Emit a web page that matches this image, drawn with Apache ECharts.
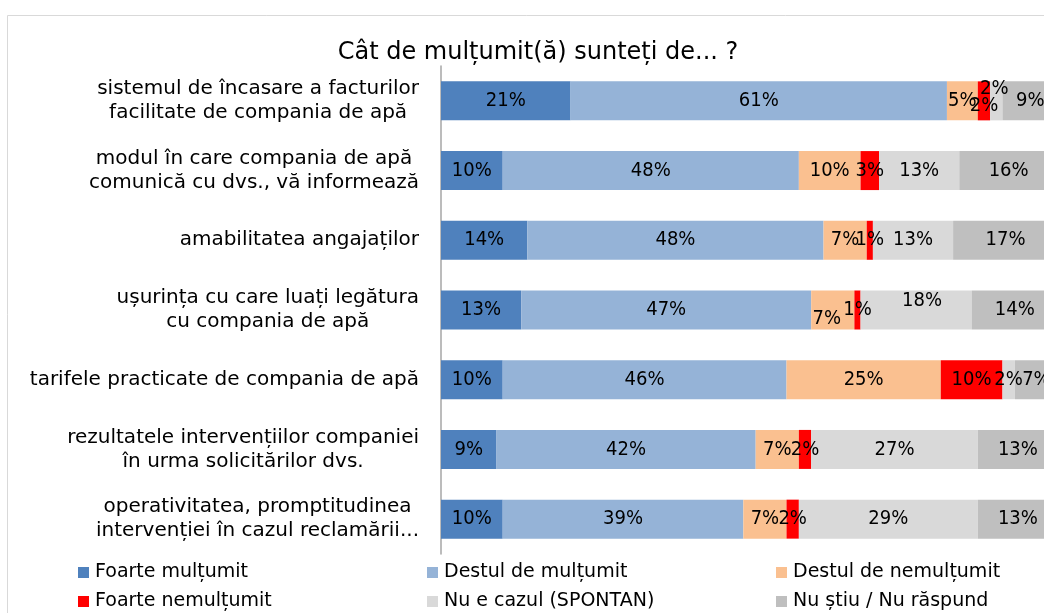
<!DOCTYPE html>
<html>
<head>
<meta charset="utf-8">
<script src="https://cdn.jsdelivr.net/npm/echarts@6/dist/echarts.min.js"></script>
<style>
  html, body { margin: 0; padding: 0; background: #fff; }
  #chart { width: 1044px; height: 613px; }
</style>
</head>
<body>
<div id="chart"></div>
<script>
// categorii (de sus in jos)
var categories = [
  'sistemul de încasare a facturilor\nfacilitate de compania de apă',
  'modul în care compania de apă\ncomunică cu dvs., vă informează',
  'amabilitatea angajaților',
  'ușurința cu care luați legătura\ncu compania de apă',
  'tarifele practicate de compania de apă',
  'rezultatele intervențiilor companiei\nîn urma solicitărilor dvs.',
  'operativitatea, promptitudinea\nintervenției în cazul reclamării...'
];

var seriesNames = [
  'Foarte mulțumit',
  'Destul de mulțumit',
  'Destul de nemulțumit',
  'Foarte nemulțumit',
  'Nu e cazul (SPONTAN)',
  'Nu știu / Nu răspund'
];

var foarteMultumit    = [21, 10, 14, 13, 10, 9, 10];
var destulMultumit    = [61, 48, 48, 47, 46, 42, 39];
var destulNemultumit  = [5, 10, 7, 7, 25, 7, 7];
var foarteNemultumit  = [2, 3, 1, 1, 10, 2, 2];
var nuECazul          = [2, 13, 13, 18, 2, 27, 29];
var nuStiu            = [9, 16, 17, 14, 7, 13, 13];

var allValues = [foarteMultumit, destulMultumit, destulNemultumit, foarteNemultumit, nuECazul, nuStiu];
var colors = ['#4F81BD', '#95B3D7', '#FAC090', '#FF0000', '#D9D9D9', '#BFBFBF'];

// etichete mutate ca in original (serie-rand -> offset)
var labelNudge = {
  '3-0': [0, 5],
  '4-0': [-2, -12],
  '2-3': [-6, 9],
  '4-3': [6, -9]
};

// pozitia legendei: [coloana x, rand y] pentru fiecare serie
var legendSpots = [[78, 563], [427, 563], [776, 563], [78, 592], [427, 592], [776, 592]];

var labelFont = 'DejaVu Sans Condensed';
var textFont = 'DejaVu Sans';

var myChart = echarts.init(document.getElementById('chart'));

var series = seriesNames.map(function (name, si) {
  return {
    name: name,
    type: 'bar',
    stack: 'total',
    barWidth: 39,
    itemStyle: { color: colors[si] },
    label: {
      show: true,
      position: 'inside',
      color: '#000',
      fontFamily: labelFont,
      fontSize: 20,
      formatter: '{c}%'
    },
    data: allValues[si].map(function (v, ri) {
      var item = { value: v };
      var off = labelNudge[si + '-' + ri];
      if (off) item.label = { offset: off };
      return item;
    })
  };
});

var legends = seriesNames.map(function (name, i) {
  return {
    data: [name],
    left: legendSpots[i][0],
    top: legendSpots[i][1],
    padding: 0,
    itemWidth: 11,
    itemHeight: 11,
    itemGap: 0,
    icon: 'rect',
    textStyle: { fontFamily: textFont, fontSize: 19, color: '#000', padding: [0, 0, 0, 1] }
  };
});

var option = {
  animation: false,
  title: {
    text: 'Cât de mulțumit(ă) sunteți de... ?',
    left: 533,
    textAlign: 'center',
    top: 36,
    textStyle: { fontFamily: textFont, fontSize: 24, fontWeight: 'normal', color: '#000' }
  },
  legend: legends,
  graphic: [{
    type: 'rect',
    left: 5,
    top: 13,
    shape: { width: 1100, height: 700 },
    style: { fill: 'none', stroke: '#d9d9d9', lineWidth: 1 },
    silent: true
  }],
  grid: { left: 441, top: 66, width: 617, height: 488, outerBoundsMode: 'none' },
  xAxis: {
    type: 'value',
    min: 0,
    max: 100,
    show: false
  },
  yAxis: {
    type: 'category',
    inverse: true,
    data: categories,
    axisLine: { lineStyle: { color: '#a6a6a6', width: 1.5 } },
    axisTick: { length: 5, lineStyle: { color: '#a6a6a6' } },
    axisLabel: {
      margin: 22,
      formatter: function (v) {
        return v.split('\n').map(function (l) { return '{c|' + l + '}'; }).join('\n');
      },
      rich: {
        c: { align: 'center', fontFamily: textFont, fontSize: 20, color: '#000', lineHeight: 24 }
      }
    }
  },
  series: series
};

myChart.setOption(option);
</script>
</body>
</html>
